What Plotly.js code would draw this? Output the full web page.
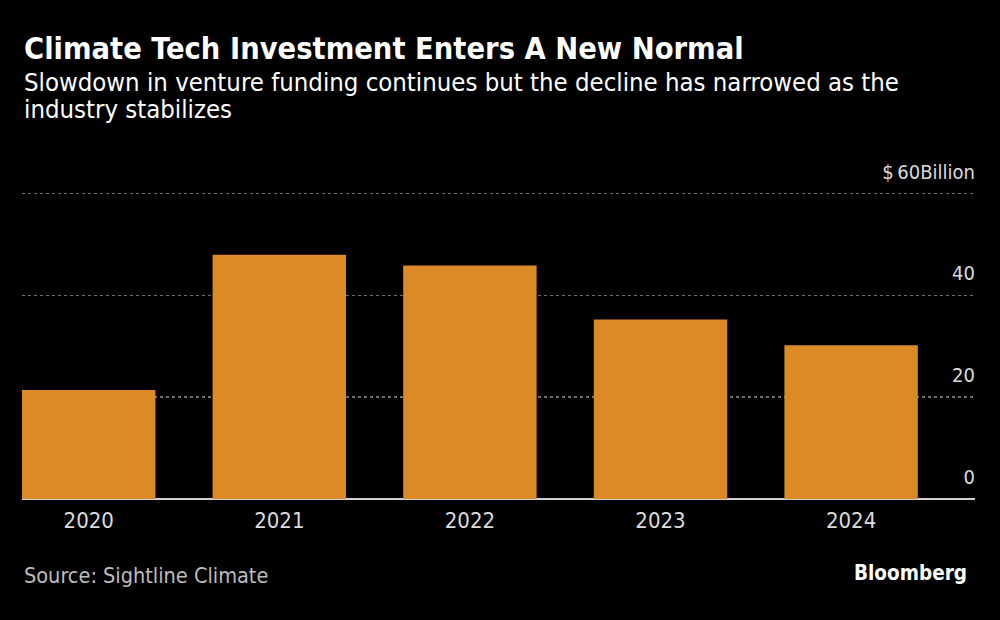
<!DOCTYPE html>
<html>
<head>
<meta charset="utf-8">
<script src="https://cdn.plot.ly/plotly-3.0.1.min.js"></script>
<style>
html,body{margin:0;padding:0;background:#000;}
#chart{width:1000px;height:620px;}
</style>
</head>
<body>
<div id="chart"></div>
<script>
const years = ["2020", "2021", "2022", "2023", "2024"];
const investment = [21.4, 48.0, 45.9, 35.3, 30.2];
const tickValues = [0, 20, 40, 60];
const tickLabels = ["0", "20", "40", "$\u200960Billion"];

const titleText = "Climate Tech Investment Enters A New Normal";
const subtitleLines = ["Slowdown in venture funding continues but the decline has narrowed as the", "industry stabilizes"];
const sourceText = "Source: Sightline Climate";
const brandText = "Bloomberg";

const FONT = "'DejaVu Sans Condensed', 'DejaVu Sans', sans-serif";

const M = {l: 22, r: 25, t: 153, b: 121};
const PH = 620 - M.t - M.b;
const PW = 1000 - M.l - M.r;
const py = p => (620 - M.b - p) / PH;
const px = p => (p - M.l) / PW;

const trace = {
  type: "bar",
  x: years,
  y: investment,
  marker: {color: "#db8a26", line: {width: 0}},
  hoverinfo: "x+y"
};

const annotations = [
  {text: "<b>" + titleText + "</b>", xref: "paper", yref: "paper", x: 0, y: py(49),
   xanchor: "left", yanchor: "middle", showarrow: false, align: "left",
   font: {size: 30.5, color: "#ffffff", family: FONT}},
  {text: sourceText, xref: "paper", yref: "paper", x: 0, y: py(575),
   xanchor: "left", yanchor: "middle", showarrow: false, align: "left",
   font: {size: 21.5, color: "#bdbdbd", family: FONT}},
  {text: "<b>" + brandText + "</b>", xref: "paper", yref: "paper", x: px(969), y: py(573),
   xanchor: "right", yanchor: "middle", showarrow: false, align: "right",
   font: {size: 20.5, color: "#ffffff", family: FONT}}
];
subtitleLines.forEach((line, i) => {
  annotations.push({text: line, xref: "paper", yref: "paper", x: 0, y: py(82 + 27 * i),
    xanchor: "left", yanchor: "middle", showarrow: false, align: "left",
    font: {size: 25.5, color: "#ffffff", family: FONT}});
});

const layout = {
  width: 1000,
  height: 620,
  paper_bgcolor: "#000",
  plot_bgcolor: "#000",
  margin: M,
  bargap: 0.3,
  showlegend: false,
  font: {family: FONT, color: "#dcdcdc"},
  xaxis: {
    type: "category",
    range: [-0.35, 4.65],
    showgrid: false,
    showline: false,
    zeroline: false,
    ticks: "",
    tickfont: {size: 22, color: "#dcdcdc", family: FONT},
    ticklabelstandoff: 6,
    fixedrange: true
  },
  yaxis: {
    range: [0, 68],
    side: "right",
    ticklabelposition: "inside",
    tickvals: tickValues,
    ticktext: tickLabels,
    tickfont: {size: 20, color: "#dcdcdc", family: FONT},
    ticklabelshift: -22,
    ticklabelstandoff: -3,
    showgrid: true,
    gridcolor: "#707070",
    gridwidth: 1.5,
    griddash: "dot",
    zeroline: true,
    zerolinecolor: "#d0d0d0",
    zerolinewidth: 2,
    showline: false,
    ticks: "",
    fixedrange: true
  },
  annotations: annotations
};

Plotly.newPlot("chart", [trace], layout, {displayModeBar: false, staticPlot: true});
</script>
</body>
</html>
